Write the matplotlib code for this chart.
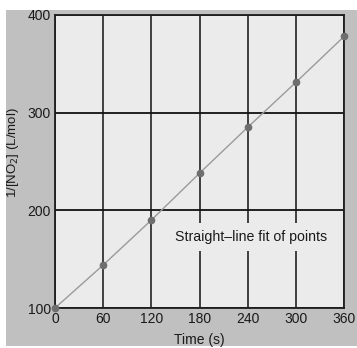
import matplotlib
matplotlib.use("Agg")
import matplotlib.pyplot as plt
from matplotlib.patches import Rectangle

times = [0, 60, 120, 180, 240, 300, 360]
inv_no2 = [100, 144, 190, 238, 285, 331, 378]
x_ticks = [0, 60, 120, 180, 240, 300, 360]
y_ticks = [100, 200, 300, 400]
note = "Straight\u2013line fit of points"

plt.rcParams["font.family"] = ["Liberation Sans", "DejaVu Sans"]

fig = plt.figure(figsize=(3.57, 3.48), dpi=100)
fig.patch.set_facecolor("white")
fig.add_artist(Rectangle((6 / 357, 2 / 348), 351 / 357, 336 / 348,
                         transform=fig.transFigure, facecolor="#c0c0c0",
                         edgecolor="none", zorder=-10))

ax = fig.add_axes([55 / 357, 40 / 348, 289 / 357, 293 / 348])
ax.set_zorder(1)
ax.set_facecolor("#ebebeb")

ax.plot(times, inv_no2, color="#9a9a9a", linewidth=1.0, zorder=3)
ax.plot(times, inv_no2, linestyle="none", marker="o", markersize=4.5,
        color="#6e6e6e", zorder=4, clip_on=False)

ax.set_xlim(0, 360)
ax.set_ylim(100, 400)
ax.set_xticks(x_ticks)
ax.set_yticks(y_ticks)
ax.xaxis.grid(True, color="#333333", linewidth=1.3)
ax.yaxis.grid(True, color="#111111", linewidth=1.3)
ax.set_axisbelow(True)
ax.tick_params(length=0, pad=3, labelsize=10, colors="#1a1a1a")
for s in ax.spines.values():
    s.set_color("#1e1e1e")
    s.set_linewidth(1.3)

ax.set_xlabel("Time (s)", fontsize=10, labelpad=5, color="#1a1a1a")
ax.set_ylabel("1/[NO$_2$] (L/mol)", fontsize=9.5, color="#1a1a1a")
ax.yaxis.set_label_coords(-0.118, 0.53)

ax.text(244, 173, note, ha="center", va="center", fontsize=10.2, color="#1a1a1a",
        zorder=5, bbox=dict(boxstyle="square,pad=0.5", facecolor="#ebebeb",
                            edgecolor="none"))

fig.savefig("out.png", dpi=100)
